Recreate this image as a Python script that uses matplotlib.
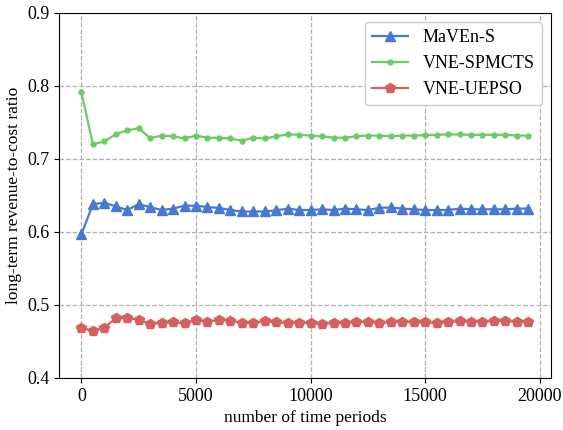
import numpy as np
import matplotlib
matplotlib.use("Agg")
import matplotlib.pyplot as plt

# --- data ---
time_periods = list(range(0, 20000, 500))

maven_s = [0.597, 0.638, 0.640, 0.635, 0.630, 0.638, 0.634, 0.630, 0.632, 0.636,
           0.636, 0.634, 0.633, 0.630, 0.628, 0.628, 0.628, 0.6295, 0.632, 0.630,
           0.630, 0.631, 0.630, 0.632, 0.631, 0.630, 0.633, 0.6335, 0.632, 0.631,
           0.630, 0.630, 0.630, 0.632, 0.631, 0.631, 0.631, 0.631, 0.632, 0.632]

vne_spmcts = [0.791, 0.720, 0.724, 0.734, 0.739, 0.742, 0.7285, 0.732, 0.731, 0.728,
              0.732, 0.729, 0.729, 0.728, 0.725, 0.729, 0.728, 0.731, 0.7335, 0.733,
              0.732, 0.731, 0.729, 0.729, 0.731, 0.732, 0.732, 0.731, 0.732, 0.732,
              0.7326, 0.733, 0.7335, 0.7335, 0.733, 0.733, 0.733, 0.733, 0.732, 0.732]

vne_uepso = [0.469, 0.464, 0.469, 0.482, 0.482, 0.480, 0.474, 0.4755, 0.476, 0.475,
             0.4795, 0.477, 0.4795, 0.4786, 0.4755, 0.4755, 0.478, 0.476, 0.4755, 0.4755,
             0.475, 0.474, 0.4755, 0.4755, 0.476, 0.477, 0.4755, 0.476, 0.477, 0.476,
             0.476, 0.4755, 0.476, 0.478, 0.477, 0.477, 0.478, 0.478, 0.477, 0.476]

plt.rcParams['font.family'] = ['Liberation Serif', 'DejaVu Serif']
plt.rcParams['font.size'] = 12.5

fig = plt.figure(figsize=(5.63, 4.30), dpi=100)
ax = fig.add_axes([0.105, 0.121, 0.873, 0.849])

ax.plot(time_periods, maven_s, color="#4878D0", marker="^", markersize=7,
        linewidth=1.6, label="MaVEn-S")
ax.plot(time_periods, vne_spmcts, color="#6ACC64", marker="o", markersize=3.5,
        linewidth=1.6, label="VNE-SPMCTS")
ax.plot(time_periods, vne_uepso, color="#D65F5F", marker="p", markersize=7.5,
        linewidth=1.6, label="VNE-UEPSO")

ax.set_ylim(0.4, 0.9)
ax.set_xticks([0, 5000, 10000, 15000, 20000])
ax.set_yticks([0.4, 0.5, 0.6, 0.7, 0.8, 0.9])
ax.tick_params(labelsize=13)
ax.grid(True, linestyle="--", color="#b0b0b0", linewidth=0.9)
ax.set_axisbelow(True)

ax.set_xlabel("number of time periods", fontsize=12.5)
ax.set_ylabel("long-term revenue-to-cost ratio", fontsize=12.5)
ax.legend(loc="upper right", fontsize=13, framealpha=1.0, edgecolor="#cccccc")

fig.savefig("out.png", dpi=100)
